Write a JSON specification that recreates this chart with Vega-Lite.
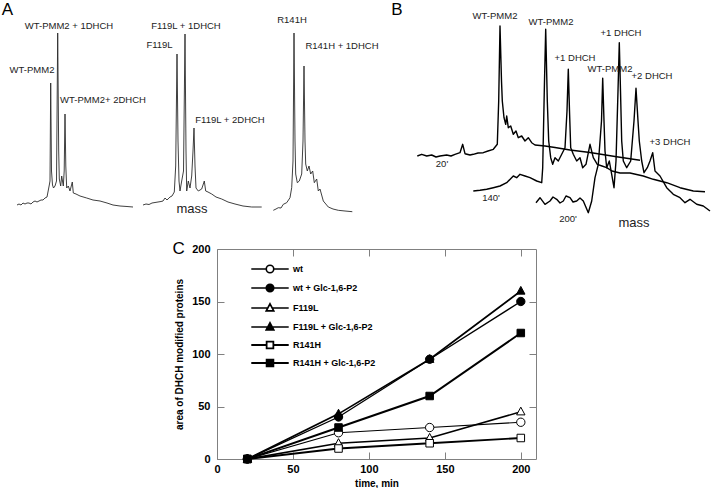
{
  "$schema": "https://vega.github.io/schema/vega-lite/v6.json",
  "padding": 0,
  "background": "white",
  "config": {
    "view": {"stroke": null},
    "font": "Liberation Sans",
    "axis": {"grid": false, "domainColor": "#808080", "tickColor": "#808080", "labelFont": "Liberation Sans", "labelFontWeight": "bold", "labelFontSize": 11, "labelColor": "black", "titleFont": "Liberation Sans", "titleFontWeight": "bold", "titleFontSize": 10, "titleColor": "black", "labelFlush": false}
  },
  "datasets": {
    "spectraA": [
      {"trace":"A1","mass":17,"intensity":26},{"trace":"A1","mass":19,"intensity":27},{"trace":"A1","mass":21,"intensity":26},{"trace":"A1","mass":23,"intensity":28},{"trace":"A1","mass":25,"intensity":27},{"trace":"A1","mass":27,"intensity":28},{"trace":"A1","mass":29,"intensity":28},{"trace":"A1","mass":31,"intensity":27},{"trace":"A1","mass":33,"intensity":29},{"trace":"A1","mass":35,"intensity":30},{"trace":"A1","mass":37,"intensity":29},{"trace":"A1","mass":39,"intensity":30},{"trace":"A1","mass":41,"intensity":31},{"trace":"A1","mass":43,"intensity":31},{"trace":"A1","mass":45,"intensity":33},{"trace":"A1","mass":47,"intensity":34},{"trace":"A1","mass":49.3,"intensity":46},{"trace":"A1","mass":50,"intensity":50},{"trace":"A1","mass":50.7,"intensity":148},{"trace":"A1","mass":51.5,"intensity":60},{"trace":"A1","mass":52.5,"intensity":46},{"trace":"A1","mass":53.5,"intensity":43},{"trace":"A1","mass":55,"intensity":45},{"trace":"A1","mass":56.5,"intensity":50},{"trace":"A1","mass":57.7,"intensity":198},{"trace":"A1","mass":58.7,"intensity":80},{"trace":"A1","mass":59.3,"intensity":52},{"trace":"A1","mass":60.7,"intensity":45},{"trace":"A1","mass":61.7,"intensity":55},{"trace":"A1","mass":63.3,"intensity":45},{"trace":"A1","mass":64.2,"intensity":60},{"trace":"A1","mass":65,"intensity":117},{"trace":"A1","mass":65.8,"intensity":65},{"trace":"A1","mass":66.7,"intensity":43},{"trace":"A1","mass":68.3,"intensity":45},{"trace":"A1","mass":70,"intensity":40},{"trace":"A1","mass":72.3,"intensity":49},{"trace":"A1","mass":73.3,"intensity":38},{"trace":"A1","mass":76,"intensity":37},{"trace":"A1","mass":80,"intensity":35},{"trace":"A1","mass":86.7,"intensity":33},{"trace":"A1","mass":93,"intensity":31},{"trace":"A1","mass":100,"intensity":30},{"trace":"A1","mass":107,"intensity":28},{"trace":"A1","mass":113,"intensity":26},{"trace":"A1","mass":120,"intensity":25},{"trace":"A1","mass":127,"intensity":24.5},{"trace":"A1","mass":133,"intensity":24},
      {"trace":"A2","mass":143,"intensity":26},{"trace":"A2","mass":146,"intensity":27},{"trace":"A2","mass":149,"intensity":26.5},{"trace":"A2","mass":152,"intensity":28},{"trace":"A2","mass":155,"intensity":28.5},{"trace":"A2","mass":158,"intensity":29},{"trace":"A2","mass":161,"intensity":29.5},{"trace":"A2","mass":163,"intensity":30},{"trace":"A2","mass":165,"intensity":33},{"trace":"A2","mass":167,"intensity":31},{"trace":"A2","mass":170,"intensity":34},{"trace":"A2","mass":172,"intensity":35},{"trace":"A2","mass":174.3,"intensity":39},{"trace":"A2","mass":175.7,"intensity":65},{"trace":"A2","mass":177,"intensity":177},{"trace":"A2","mass":178,"intensity":90},{"trace":"A2","mass":179,"intensity":50},{"trace":"A2","mass":180,"intensity":40},{"trace":"A2","mass":181.7,"intensity":50},{"trace":"A2","mass":183.5,"intensity":60},{"trace":"A2","mass":185,"intensity":197},{"trace":"A2","mass":186,"intensity":80},{"trace":"A2","mass":186.7,"intensity":40},{"trace":"A2","mass":188.3,"intensity":50},{"trace":"A2","mass":190,"intensity":43},{"trace":"A2","mass":191.7,"intensity":55},{"trace":"A2","mass":193,"intensity":80},{"trace":"A2","mass":194,"intensity":103},{"trace":"A2","mass":195,"intensity":65},{"trace":"A2","mass":196,"intensity":43},{"trace":"A2","mass":198.3,"intensity":40},{"trace":"A2","mass":201.7,"intensity":42},{"trace":"A2","mass":204.3,"intensity":50},{"trace":"A2","mass":205.7,"intensity":40},{"trace":"A2","mass":208,"intensity":39},{"trace":"A2","mass":211.7,"intensity":37},{"trace":"A2","mass":216,"intensity":34},{"trace":"A2","mass":221.7,"intensity":32},{"trace":"A2","mass":228,"intensity":29},{"trace":"A2","mass":235,"intensity":27},{"trace":"A2","mass":243,"intensity":25},{"trace":"A2","mass":251.7,"intensity":24},{"trace":"A2","mass":261.7,"intensity":24},
      {"trace":"A3","mass":273.3,"intensity":20.7},{"trace":"A3","mass":276,"intensity":22},{"trace":"A3","mass":278.3,"intensity":23.3},{"trace":"A3","mass":281,"intensity":23},{"trace":"A3","mass":283.3,"intensity":26.7},{"trace":"A3","mass":286.7,"intensity":28.3},{"trace":"A3","mass":288.5,"intensity":31},{"trace":"A3","mass":290,"intensity":33.3},{"trace":"A3","mass":291.7,"intensity":43.3},{"trace":"A3","mass":293,"intensity":70},{"trace":"A3","mass":294,"intensity":198},{"trace":"A3","mass":295,"intensity":90},{"trace":"A3","mass":295.7,"intensity":57},{"trace":"A3","mass":297.3,"intensity":48.3},{"trace":"A3","mass":299.3,"intensity":50},{"trace":"A3","mass":301.7,"intensity":57},{"trace":"A3","mass":303,"intensity":90},{"trace":"A3","mass":304,"intensity":165},{"trace":"A3","mass":305,"intensity":90},{"trace":"A3","mass":305.7,"intensity":67},{"trace":"A3","mass":307.3,"intensity":60},{"trace":"A3","mass":309,"intensity":65},{"trace":"A3","mass":310.7,"intensity":57},{"trace":"A3","mass":312.7,"intensity":60},{"trace":"A3","mass":314.3,"intensity":48.3},{"trace":"A3","mass":316.7,"intensity":52},{"trace":"A3","mass":318.3,"intensity":40},{"trace":"A3","mass":320,"intensity":42},{"trace":"A3","mass":323.3,"intensity":30},{"trace":"A3","mass":328.3,"intensity":24},{"trace":"A3","mass":333,"intensity":22},{"trace":"A3","mass":338.3,"intensity":20.7},{"trace":"A3","mass":345,"intensity":20},{"trace":"A3","mass":352.3,"intensity":19.3}
    ],
    "spectraB": [
      {"trace":"20","mass":417.3,"intensity":75},{"trace":"20","mass":421.7,"intensity":76.7},{"trace":"20","mass":426.7,"intensity":75},{"trace":"20","mass":431.7,"intensity":76},{"trace":"20","mass":436,"intensity":74},{"trace":"20","mass":440,"intensity":75},{"trace":"20","mass":446.7,"intensity":76},{"trace":"20","mass":451,"intensity":75},{"trace":"20","mass":455,"intensity":76.7},{"trace":"20","mass":460,"intensity":78.3},{"trace":"20","mass":462.7,"intensity":86.7},{"trace":"20","mass":465,"intensity":77.3},{"trace":"20","mass":470,"intensity":76},{"trace":"20","mass":473.3,"intensity":76.7},{"trace":"20","mass":478,"intensity":78},{"trace":"20","mass":483.3,"intensity":78.3},{"trace":"20","mass":488,"intensity":80},{"trace":"20","mass":493.3,"intensity":81.7},{"trace":"20","mass":497.3,"intensity":86.7},{"trace":"20","mass":498.7,"intensity":130},{"trace":"20","mass":500,"intensity":205},{"trace":"20","mass":501.5,"intensity":150},{"trace":"20","mass":502.3,"intensity":130},{"trace":"20","mass":504,"intensity":113.3},{"trace":"20","mass":505.7,"intensity":106.7},{"trace":"20","mass":506.7,"intensity":115},{"trace":"20","mass":508.3,"intensity":103.3},{"trace":"20","mass":510.7,"intensity":105},{"trace":"20","mass":513.3,"intensity":96.7},{"trace":"20","mass":516,"intensity":100},{"trace":"20","mass":518.3,"intensity":93.3},{"trace":"20","mass":521.7,"intensity":95},{"trace":"20","mass":525,"intensity":90},{"trace":"20","mass":528.3,"intensity":93.3},{"trace":"20","mass":531.7,"intensity":88.3},{"trace":"20","mass":535,"intensity":86},{"trace":"20","mass":545,"intensity":85},{"trace":"20","mass":555,"intensity":83.5},{"trace":"20","mass":570,"intensity":81},{"trace":"20","mass":590,"intensity":78.5},{"trace":"20","mass":615,"intensity":74.5},{"trace":"20","mass":640,"intensity":70.7},
      {"trace":"140","mass":473.3,"intensity":40},{"trace":"140","mass":480,"intensity":40.7},{"trace":"140","mass":486.7,"intensity":41.7},{"trace":"140","mass":493.3,"intensity":43.3},{"trace":"140","mass":500,"intensity":45},{"trace":"140","mass":506.7,"intensity":48.3},{"trace":"140","mass":513.3,"intensity":55},{"trace":"140","mass":516.7,"intensity":53.3},{"trace":"140","mass":520,"intensity":56.7},{"trace":"140","mass":525,"intensity":55},{"trace":"140","mass":530,"intensity":53.3},{"trace":"140","mass":536.7,"intensity":50},{"trace":"140","mass":541.7,"intensity":48.3},{"trace":"140","mass":542.7,"intensity":63.3},{"trace":"140","mass":544.5,"intensity":150},{"trace":"140","mass":545.7,"intensity":201.7},{"trace":"140","mass":547.3,"intensity":130},{"trace":"140","mass":548.7,"intensity":90},{"trace":"140","mass":550.7,"intensity":73.3},{"trace":"140","mass":552.7,"intensity":66.7},{"trace":"140","mass":555,"intensity":73.3},{"trace":"140","mass":558.3,"intensity":70},{"trace":"140","mass":561.7,"intensity":76.7},{"trace":"140","mass":565,"intensity":83.3},{"trace":"140","mass":567,"intensity":120},{"trace":"140","mass":568.3,"intensity":161.7},{"trace":"140","mass":569.5,"intensity":120},{"trace":"140","mass":570.7,"intensity":83.3},{"trace":"140","mass":573.3,"intensity":76.7},{"trace":"140","mass":576.7,"intensity":70},{"trace":"140","mass":580,"intensity":73.3},{"trace":"140","mass":582.7,"intensity":63.3},{"trace":"140","mass":586,"intensity":66.7},{"trace":"140","mass":590,"intensity":86.7},{"trace":"140","mass":593.3,"intensity":73.3},{"trace":"140","mass":597.3,"intensity":66.7},{"trace":"140","mass":602,"intensity":65},{"trace":"140","mass":606.7,"intensity":63.3},{"trace":"140","mass":612,"intensity":60},{"trace":"140","mass":620,"intensity":58},{"trace":"140","mass":630,"intensity":58},{"trace":"140","mass":643.3,"intensity":55},{"trace":"140","mass":653.3,"intensity":51.7},{"trace":"140","mass":666.7,"intensity":48.3},{"trace":"140","mass":680,"intensity":43.3},{"trace":"140","mass":693.3,"intensity":40},{"trace":"140","mass":705,"intensity":39.3},
      {"trace":"200","mass":536,"intensity":28.3},{"trace":"200","mass":540,"intensity":33.3},{"trace":"200","mass":545,"intensity":26.7},{"trace":"200","mass":550,"intensity":30},{"trace":"200","mass":553,"intensity":34},{"trace":"200","mass":556.7,"intensity":31.7},{"trace":"200","mass":560,"intensity":28},{"trace":"200","mass":563.3,"intensity":30},{"trace":"200","mass":566,"intensity":35},{"trace":"200","mass":570,"intensity":33.3},{"trace":"200","mass":573,"intensity":29},{"trace":"200","mass":576.7,"intensity":30},{"trace":"200","mass":580,"intensity":33},{"trace":"200","mass":583.3,"intensity":30},{"trace":"200","mass":588.3,"intensity":18.3},{"trace":"200","mass":591.7,"intensity":30},{"trace":"200","mass":595,"intensity":53.3},{"trace":"200","mass":598.3,"intensity":66.7},{"trace":"200","mass":601.5,"intensity":110},{"trace":"200","mass":602.7,"intensity":152.7},{"trace":"200","mass":604,"intensity":110},{"trace":"200","mass":605,"intensity":80},{"trace":"200","mass":606.7,"intensity":63.3},{"trace":"200","mass":609.3,"intensity":70},{"trace":"200","mass":611.7,"intensity":56.7},{"trace":"200","mass":614,"intensity":43.3},{"trace":"200","mass":616,"intensity":70},{"trace":"200","mass":618,"intensity":140},{"trace":"200","mass":619.3,"intensity":188.3},{"trace":"200","mass":620.5,"intensity":140},{"trace":"200","mass":621.7,"intensity":90},{"trace":"200","mass":623.3,"intensity":70},{"trace":"200","mass":626.7,"intensity":63.3},{"trace":"200","mass":630.7,"intensity":70},{"trace":"200","mass":634,"intensity":110},{"trace":"200","mass":636,"intensity":142.7},{"trace":"200","mass":638,"intensity":110},{"trace":"200","mass":639.3,"intensity":90},{"trace":"200","mass":641.7,"intensity":70},{"trace":"200","mass":644,"intensity":58.3},{"trace":"200","mass":647.3,"intensity":63.3},{"trace":"200","mass":650,"intensity":70},{"trace":"200","mass":652.7,"intensity":78.3},{"trace":"200","mass":655,"intensity":60},{"trace":"200","mass":660,"intensity":55},{"trace":"200","mass":666.7,"intensity":43.3},{"trace":"200","mass":673.3,"intensity":36.7},{"trace":"200","mass":680,"intensity":33.3},{"trace":"200","mass":685,"intensity":28.3},{"trace":"200","mass":690,"intensity":31.7},{"trace":"200","mass":696.7,"intensity":26.7},{"trace":"200","mass":703.3,"intensity":25},{"trace":"200","mass":710,"intensity":20}
    ],
    "peakLabels": [
      {"label":"WT-PMM2","mass":32,"intensity":161},
      {"label":"WT-PMM2 + 1DHCH","mass":69,"intensity":205},
      {"label":"WT-PMM2+  2DHCH","mass":103,"intensity":131},
      {"label":"F119L","mass":159.5,"intensity":186},
      {"label":"F119L + 1DHCH","mass":186,"intensity":205},
      {"label":"F119L + 2DHCH","mass":230,"intensity":111},
      {"label":"R141H","mass":292,"intensity":211},
      {"label":"R141H + 1DHCH","mass":342,"intensity":185},
      {"label":"WT-PMM2","mass":495,"intensity":215},
      {"label":"WT-PMM2","mass":551,"intensity":209},
      {"label":"+1 DHCH","mass":575,"intensity":173},
      {"label":"+1 DHCH","mass":621,"intensity":198},
      {"label":"WT-PMM2","mass":610,"intensity":162},
      {"label":"+2 DHCH","mass":652,"intensity":155},
      {"label":"+3 DHCH","mass":670,"intensity":89},
      {"label":"20'","mass":442,"intensity":67},
      {"label":"140'","mass":491,"intensity":33},
      {"label":"200'","mass":568,"intensity":12}
    ],
    "massLabels": [
      {"label":"mass","mass":192,"intensity":22},
      {"label":"mass","mass":634,"intensity":8}
    ],
    "panelLetters": [
      {"label":"A","mass":7.5,"intensity":221.5},
      {"label":"B","mass":397,"intensity":221.5}
    ],
    "curves": [
      {"series":"wt","time":20,"area":0},{"series":"wt","time":80,"area":25},{"series":"wt","time":140,"area":30},{"series":"wt","time":200,"area":35},
      {"series":"wt + Glc-1,6-P2","time":20,"area":0},{"series":"wt + Glc-1,6-P2","time":80,"area":40},{"series":"wt + Glc-1,6-P2","time":140,"area":95},{"series":"wt + Glc-1,6-P2","time":200,"area":150},
      {"series":"F119L","time":20,"area":0},{"series":"F119L","time":80,"area":15},{"series":"F119L","time":140,"area":20},{"series":"F119L","time":200,"area":45},
      {"series":"F119L + Glc-1,6-P2","time":20,"area":0},{"series":"F119L + Glc-1,6-P2","time":80,"area":43},{"series":"F119L + Glc-1,6-P2","time":140,"area":95},{"series":"F119L + Glc-1,6-P2","time":200,"area":160},
      {"series":"R141H","time":20,"area":0},{"series":"R141H","time":80,"area":10},{"series":"R141H","time":140,"area":15},{"series":"R141H","time":200,"area":20},
      {"series":"R141H + Glc-1,6-P2","time":20,"area":0},{"series":"R141H + Glc-1,6-P2","time":80,"area":30},{"series":"R141H + Glc-1,6-P2","time":140,"area":60},{"series":"R141H + Glc-1,6-P2","time":200,"area":120}
    ]
  },
  "vconcat": [
    {
      "width": 713,
      "height": 230,
      "encoding": {
        "x": {"field": "mass", "type": "quantitative", "scale": {"domain": [0, 713], "nice": false, "zero": false}, "axis": null},
        "y": {"field": "intensity", "type": "quantitative", "scale": {"domain": [0, 230], "nice": false, "zero": false}, "axis": null}
      },
      "layer": [
        {"data": {"name": "spectraA"}, "mark": {"type": "line", "color": "#2a2a2a", "strokeWidth": 0.9}, "encoding": {"detail": {"field": "trace", "type": "nominal"}}},
        {"data": {"name": "spectraB"}, "mark": {"type": "line", "color": "black", "strokeWidth": 1.4, "strokeJoin": "round"}, "encoding": {"detail": {"field": "trace", "type": "nominal"}}},
        {"data": {"name": "peakLabels"}, "mark": {"type": "text", "fontSize": 9.5, "color": "#222222", "font": "Liberation Sans"}, "encoding": {"text": {"field": "label", "type": "nominal"}}},
        {"data": {"name": "massLabels"}, "mark": {"type": "text", "fontSize": 13, "color": "#222222", "font": "Liberation Sans"}, "encoding": {"text": {"field": "label", "type": "nominal"}}},
        {"data": {"name": "panelLetters"}, "mark": {"type": "text", "fontSize": 17, "color": "black", "font": "Liberation Sans"}, "encoding": {"text": {"field": "label", "type": "nominal"}}}
      ]
    },
    {
      "hconcat": [
        {
          "width": 172,
          "height": 10,
          "data": {"values": []},
          "mark": {"type": "point", "opacity": 0}
        },
        {
          "width": 319,
          "height": 210,
          "data": {"name": "curves"},
          "layer": [
            {
              "mark": {"type": "line", "color": "black"},
              "encoding": {
                "x": {"field": "time", "type": "quantitative", "scale": {"domain": [0, 210], "nice": false}, "axis": {"orient": "bottom", "values": [0, 50, 100, 150, 200], "tickSize": -7, "labelPadding": 11, "title": "time, min", "titlePadding": 4}},
                "y": {"field": "area", "type": "quantitative", "scale": {"domain": [0, 200], "nice": false}, "axis": {"orient": "left", "values": [0, 50, 100, 150, 200], "tickSize": -7, "labelPadding": 14, "title": "area of DHCH modified proteins", "titlePadding": 7}},
                "detail": {"field": "series", "type": "nominal"},
                "strokeWidth": {"field": "series", "type": "nominal", "scale": {"domain": ["wt", "wt + Glc-1,6-P2", "F119L", "F119L + Glc-1,6-P2", "R141H", "R141H + Glc-1,6-P2"], "range": [1.2, 2, 1.2, 2, 1.2, 2]}, "legend": null}
              }
            },
            {
              "mark": {"type": "point", "filled": true, "size": 70, "stroke": "black", "strokeWidth": 1, "opacity": 1},
              "encoding": {
                "x": {"field": "time", "type": "quantitative", "scale": {"domain": [0, 210], "nice": false}, "axis": {"orient": "top", "values": [50, 100, 150, 200], "tickSize": -7, "labels": false, "title": null}},
                "y": {"field": "area", "type": "quantitative", "scale": {"domain": [0, 200], "nice": false}, "axis": {"orient": "right", "values": [50, 100, 150], "tickSize": -7, "labels": false, "title": null}},
                "shape": {
                  "field": "series", "type": "nominal",
                  "scale": {"domain": ["wt", "wt + Glc-1,6-P2", "F119L", "F119L + Glc-1,6-P2", "R141H", "R141H + Glc-1,6-P2"],
                            "range": ["M-1,0A1,1,0,1,1,1,0A1,1,0,1,1,-1,0Z", "M-1,0A1,1,0,1,1,1,0A1,1,0,1,1,-1,0Z", "M0,-1.1L1,0.75L-1,0.75Z", "M0,-1.1L1,0.75L-1,0.75Z", "M-0.9,-0.9L0.9,-0.9L0.9,0.9L-0.9,0.9Z", "M-0.9,-0.9L0.9,-0.9L0.9,0.9L-0.9,0.9Z"]},
                  "legend": null
                },
                "fill": {"field": "series", "type": "nominal", "scale": {"domain": ["wt", "wt + Glc-1,6-P2", "F119L", "F119L + Glc-1,6-P2", "R141H", "R141H + Glc-1,6-P2"], "range": ["white", "black", "white", "black", "white", "black"]}, "legend": null}
              }
            },
            {
              "transform": [{"filter": "false"}],
              "mark": {"type": "point", "filled": true, "size": 56, "stroke": "black", "opacity": 1},
              "encoding": {
                "x": {"field": "time", "type": "quantitative", "scale": {"domain": [0, 210], "nice": false}, "axis": null},
                "y": {"field": "area", "type": "quantitative", "scale": {"domain": [0, 200], "nice": false}, "axis": null},
                "shape": {
                  "field": "series", "type": "nominal",
                  "scale": {"domain": ["wt", "wt + Glc-1,6-P2", "F119L", "F119L + Glc-1,6-P2", "R141H", "R141H + Glc-1,6-P2"],
                            "range": ["M-5,0L-1,0M1,0L5,0M-1,0A1,1,0,1,1,1,0A1,1,0,1,1,-1,0Z", "M-5,0L5,0M-1,0A1,1,0,1,1,1,0A1,1,0,1,1,-1,0Z", "M-5,0L-0.6,0M0.6,0L5,0M0,-1.1L1,0.75L-1,0.75Z", "M-5,0L5,0M0,-1.1L1,0.75L-1,0.75Z", "M-5,0L-0.9,0M0.9,0L5,0M-0.9,-0.9L0.9,-0.9L0.9,0.9L-0.9,0.9Z", "M-5,0L5,0M-0.9,-0.9L0.9,-0.9L0.9,0.9L-0.9,0.9Z"]},
                  "legend": {
                    "title": null, "orient": "none", "legendX": 48, "legendY": 15, "padding": 0,
                    "symbolSize": 56, "labelOffset": 18, "rowPadding": 4,
                    "labelFont": "Liberation Sans", "labelFontSize": 9, "labelFontWeight": "bold", "labelColor": "black"
                  }
                },
                "fill": {"field": "series", "type": "nominal", "scale": {"domain": ["wt", "wt + Glc-1,6-P2", "F119L", "F119L + Glc-1,6-P2", "R141H", "R141H + Glc-1,6-P2"], "range": ["white", "black", "white", "black", "white", "black"]}},
                "strokeWidth": {"field": "series", "type": "nominal", "scale": {"domain": ["wt", "wt + Glc-1,6-P2", "F119L", "F119L + Glc-1,6-P2", "R141H", "R141H + Glc-1,6-P2"], "range": [1.6, 1.8, 1.2, 1.6, 1.8, 1.8]}}
              }
            },
            {
              "data": {"values": [{"label": "C"}]},
              "mark": {"type": "text", "fontSize": 17, "font": "Liberation Sans", "color": "black", "align": "center", "baseline": "middle"},
              "encoding": {
                "text": {"field": "label", "type": "nominal"},
                "x": {"datum": -25.3, "type": "quantitative", "scale": {"domain": [0, 210], "nice": false}, "axis": null},
                "y": {"datum": 200, "type": "quantitative", "scale": {"domain": [0, 200], "nice": false}, "axis": null}
              }
            }
          ],
          "resolve": {
            "axis": {"x": "independent", "y": "independent"},
            "scale": {"shape": "independent", "fill": "independent", "strokeWidth": "independent"},
            "legend": {"shape": "independent", "fill": "independent", "strokeWidth": "independent"}
          }
        }
      ],
      "spacing": 0,
      "resolve": {"scale": {"shape": "independent", "fill": "independent", "strokeWidth": "independent"}, "legend": {"shape": "independent", "fill": "independent", "strokeWidth": "independent"}}
    }
  ],
  "spacing": 9,
  "resolve": {"scale": {"shape": "independent", "fill": "independent", "strokeWidth": "independent"}, "legend": {"shape": "independent", "fill": "independent", "strokeWidth": "independent"}}
}
